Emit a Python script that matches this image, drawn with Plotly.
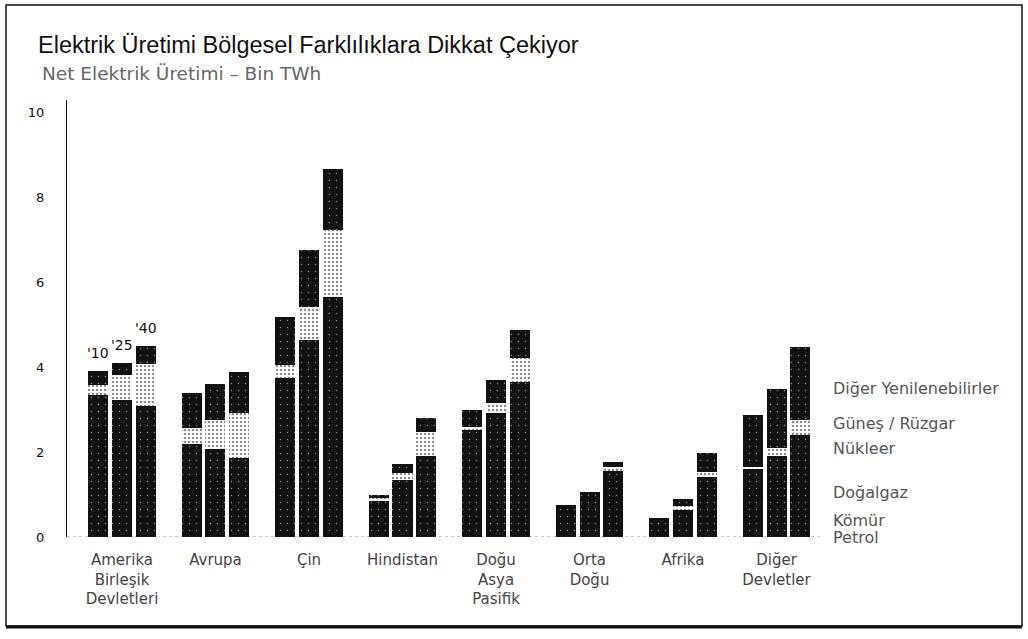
import plotly.graph_objects as go

# ---------------- data (Bin TWh) ----------------
regions = ["Amerika<br>Birleşik<br>Devletleri", "Avrupa", "Çin", "Hindistan",
           "Doğu<br>Asya<br>Pasifik", "Orta<br>Doğu", "Afrika", "Diğer<br>Devletler"]
years = ["'10", "'25", "'40"]

petrol = [0.04, 0.02, 0.02, 0.08, 0.03, 0.02, 0.02, 0.01, 0.01, 0.03, 0.02, 0.02,
          0.12, 0.06, 0.04, 0.28, 0.20, 0.16, 0.05, 0.05, 0.04, 0.22, 0.12, 0.08]
komur = [1.68, 1.15, 0.85, 0.85, 0.60, 0.30, 3.55, 3.85, 4.15, 0.70, 1.10, 1.50,
         1.10, 1.25, 1.35, 0.00, 0.01, 0.01, 0.20, 0.25, 0.35, 0.35, 0.40, 0.45]
dogalgaz = [0.85, 1.28, 1.52, 0.55, 0.75, 0.90, 0.10, 0.35, 0.50, 0.12, 0.13, 0.20,
            0.60, 0.80, 1.10, 0.45, 0.80, 1.25, 0.12, 0.32, 0.95, 0.65, 0.90, 1.25]
nukleer = [0.78, 0.78, 0.70, 0.71, 0.70, 0.64, 0.08, 0.44, 1.00, 0.02, 0.09, 0.19,
           0.70, 0.81, 1.17, 0.00, 0.03, 0.14, 0.01, 0.02, 0.08, 0.38, 0.49, 0.63]
gunes_ruzgar = [0.23, 0.59, 0.99, 0.38, 0.68, 1.06, 0.31, 0.77, 1.58, 0.04, 0.17, 0.57,
                0.08, 0.24, 0.56, 0.00, 0.00, 0.09, 0.00, 0.08, 0.11, 0.05, 0.19, 0.35]
diger_yen = [0.34, 0.28, 0.42, 0.83, 0.85, 0.97, 1.13, 1.35, 1.44, 0.08, 0.21, 0.33,
             0.40, 0.54, 0.66, 0.02, 0.02, 0.12, 0.07, 0.18, 0.45, 1.23, 1.39, 1.72]

series_names = ["Petrol", "Kömür", "Doğalgaz", "Nükleer", "Güneş / Rüzgar", "Diğer Yenilenebilirler"]
series_values = [petrol, komur, dogalgaz, nukleer, gunes_ruzgar, diger_yen]
legend_y = [0.0, 0.40, 1.06, 2.08, 2.67, 3.51]   # label positions on value axis
y_ticks = [0, 2, 4, 6, 8, 10]

title = "Elektrik Üretimi Bölgesel Farklılıklara Dikkat Çekiyor"
subtitle = "Net Elektrik Üretimi – Bin TWh"

# ---------------- layout geometry ----------------
W, H = 1028, 639
L, R, T, B = 67, 208, 100, 102
PW, PH = W - L - R, H - T - B
step = 0.2535      # offset between the 3 bars in a group
bw = 0.214         # bar width


def px(xp):
    return (xp - L) / PW


def py(yp):
    return (H - B - yp) / PH


xs = [g + (j - 1) * step for g in range(len(regions)) for j in range(len(years))]

dark = ["#121212", "#111111", "#101010", "#121212", None, "#111111"]

fig = go.Figure()
for name, vals, col in zip(series_names, series_values, dark):
    if col is None:
        marker = dict(color="white", line=dict(width=0),
                      pattern=dict(shape=".", fgcolor="#1a1a1a", bgcolor="white",
                                   size=4, solidity=0.3))
    else:
        marker = dict(color=col, line=dict(width=0),
                      pattern=dict(shape=".", fgcolor="#ffffff", bgcolor=col,
                                   size=7, solidity=0.04))
    fig.add_trace(go.Bar(x=xs, y=vals, width=bw, name=name, marker=marker,
                         showlegend=False))

totals = [sum(v[i] for v in series_values) for i in range(len(xs))]

annotations = []
# year labels above first group
for j, yr in enumerate(years):
    annotations.append(dict(x=xs[j], y=totals[j], xref="x", yref="y", text=yr,
                            showarrow=False, yanchor="bottom", yshift=8,
                            font=dict(family="DejaVu Sans", size=14, color="#111")))
# right-hand labels
for name, ly in zip(series_names, legend_y):
    annotations.append(dict(x=px(831), y=ly, xref="paper", yref="y", text=name,
                            xanchor="left", yanchor="middle", showarrow=False,
                            font=dict(family="DejaVu Sans", size=16, color="#555")))
# title + subtitle
annotations.append(dict(x=px(36), y=py(45), xref="paper", yref="paper", text=title,
                        xanchor="left", yanchor="middle", showarrow=False,
                        font=dict(family="Liberation Sans", size=23.5, color="#111")))
annotations.append(dict(x=px(40), y=py(73), xref="paper", yref="paper", text=subtitle,
                        xanchor="left", yanchor="middle", showarrow=False,
                        font=dict(family="DejaVu Sans", size=18.5, color="#666")))

shapes = [
    # outer frame
    dict(type="rect", xref="paper", yref="paper", x0=px(6), x1=px(1022), y0=py(626), y1=py(5),
         line=dict(color="#111", width=1.5), layer="below"),
    dict(type="line", xref="paper", yref="paper", x0=px(6), x1=px(1022), y0=py(627), y1=py(627),
         line=dict(color="#111", width=3)),
    # dotted baseline
    dict(type="line", xref="paper", yref="y", x0=0, x1=1.0, y0=0, y1=0,
         line=dict(color="#999", width=1, dash="dot"), layer="below"),
]

fig.update_layout(
    width=W, height=H,
    margin=dict(l=L, r=R, t=T, b=B),
    barmode="stack",
    plot_bgcolor="white", paper_bgcolor="white",
    annotations=annotations, shapes=shapes,
    xaxis=dict(range=[-0.588, 7.465], tickmode="array",
               tickvals=list(range(len(regions))), ticktext=regions,
               showgrid=False, zeroline=False, showline=False,
               ticks="", ticklabelstandoff=12,
               tickfont=dict(family="DejaVu Sans", size=15, color="#444")),
    yaxis=dict(range=[0, 10.3], tickmode="array", tickvals=y_ticks,
               showgrid=False, zeroline=False, showline=True, linecolor="#111",
               linewidth=1, ticks="", ticklabelstandoff=19,
               tickfont=dict(family="DejaVu Sans", size=13, color="#111")),
)

fig.write_html("out.html", config={"displayModeBar": False},
               post_script="document.body.style.margin='0px';")
